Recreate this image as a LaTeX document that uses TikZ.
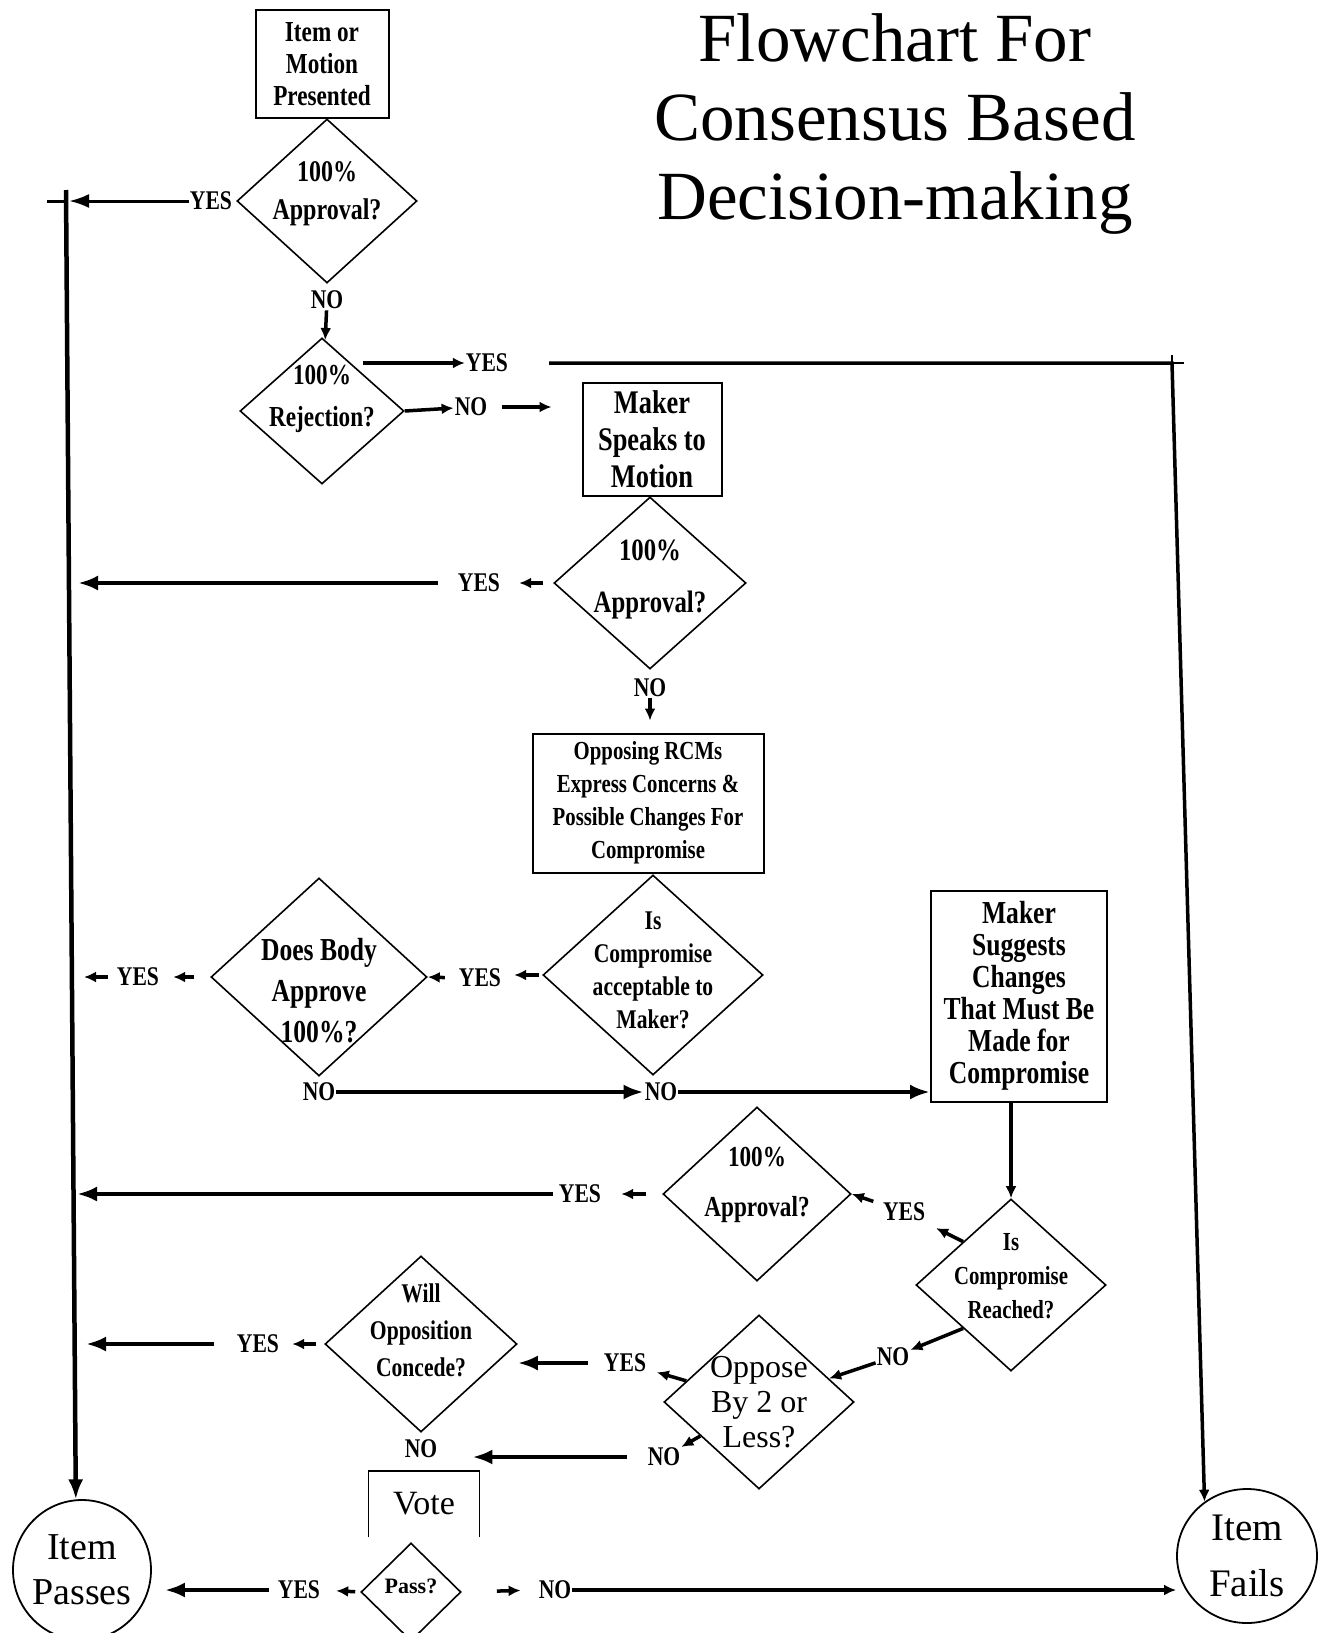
\documentclass[tikz,border=0pt]{standalone}
\usepackage{fontspec}
\setmainfont{Liberation Serif}
\newfontfamily\narrowfont[FakeStretch=0.8]{Liberation Serif}
\usetikzlibrary{shapes.geometric, positioning, backgrounds, calc, arrows.meta}

\begin{document}
\begin{tikzpicture}[
    x=1pt, y=-1pt,
    background rectangle/.style={fill=white},
    show background rectangle,
    inner frame sep=0pt,
    >={Latex[length=12pt, width=11pt]},
    txt/.style 2 args={font=\narrowfont\bfseries\fontsize{#1}{#2}\selectfont, align=center},
    box/.style={draw, line width=2pt, inner sep=0pt, align=center},
    decision/.style 2 args={diamond, draw, line width=1.6pt, inner sep=0pt, minimum width=#1, minimum height=#2},
    terminal/.style={ellipse, draw, line width=1.8pt, inner sep=-15pt, align=center},
    answer/.style={font=\narrowfont\bfseries\fontsize{27}{27}\selectfont, inner sep=1pt},
    link/.style={line width=3.5pt, ->},
    trunk/.style={line width=4.5pt, -{Latex[length=20pt, width=15pt]}}
]
    \useasboundingbox (0,0) rectangle (1319,1633);

    % Title
    \node[font=\fontsize{69}{79}\selectfont, align=center] (head) at (895,124) {Flowchart For\\Consensus Based\\Decision-making};

    % Start
    \node[box, txt={29}{32}, minimum width=133pt, minimum height=108pt] (start) at (322,64) {Item or\\Motion\\Presented};

    % First approval check
    \node[decision={180pt}{164pt}, label={[txt={30}{38}, yshift=7pt]center:100\%\\Approval?}] (appr1) at (327,201) {};
    \node[answer, left=3pt of appr1] (y1) {YES};
    \node[answer, below=6pt of appr1] (n1) {NO};
    \coordinate (ltop) at (66,190);

    % Rejection check
    \node[decision={164pt}{146pt}, label={[txt={29}{42}, yshift=12pt]center:100\%\\Rejection?}] (rej) at (322,411) {};
    \node[answer] (y2) at (487,363) {YES};
    \node[answer] (n2) at (471,407) {NO};
    \coordinate (rtop) at (1172,363);

    % Maker speaks
    \node[box, txt={33}{37}, minimum width=139pt, minimum height=113pt] (maker) at (652,439) {Maker\\Speaks to\\Motion};

    % Second approval check
    \node[decision={192pt}{172pt}, label={[txt={31}{52}, yshift=4pt]center:100\%\\Approval?}] (appr2) at (650,583) {};
    \node[answer] (y3) at (479,583) {YES};
    \node[answer, below=8pt of appr2] (n3) {NO};

    % Concerns
    \node[box, txt={26}{33}, minimum width=231pt, minimum height=139pt] (concerns) at (648,803) {Opposing RCMs\\Express Concerns \&\\Possible Changes For\\Compromise};

    % Acceptable to maker?
    \node[decision={220pt}{200pt}, label={[txt={27}{33}, yshift=5pt]center:Is\\Compromise\\acceptable to\\Maker?}] (accept) at (653,975) {};
    \node[answer] (y4) at (480,978) {YES};

    % Body approves?
    \node[decision={216pt}{198pt}, label={[txt={32}{41}, yshift=-14pt]center:Does Body\\Approve\\100\%?}] (body) at (319,977) {};
    \node[answer] (y5) at (138,977) {YES};
    \node[answer] (n4) at (319,1092) {NO};
    \node[answer] (n5) at (661,1092) {NO};

    % Maker suggests
    \node[box, txt={32}{32}, minimum width=176pt, minimum height=211pt] (suggest) at (1019,996) {Maker\\Suggests\\Changes\\That Must Be\\Made for\\Compromise};

    % Compromise reached?
    \node[decision={190pt}{172pt}, label={[txt={26}{34}, yshift=9pt]center:Is\\Compromise\\Reached?}] (reached) at (1011,1285) {};
    \node[answer] (y6) at (904,1212) {YES};
    \node[answer] (n6) at (893,1357) {NO};

    % Third approval check
    \node[decision={188pt}{174pt}, label={[txt={29}{50}, yshift=9pt]center:100\%\\Approval?}] (appr3) at (757,1194) {};
    \node[answer] (y7) at (580,1194) {YES};

    % Opposition by 2 or less?
    \node[decision={190pt}{174pt}, label={[font=\fontsize{32}{35}\selectfont, align=center]center:Oppose\\By 2 or\\Less?}] (few) at (759,1402) {};
    \node[answer] (y8) at (625,1363) {YES};
    \node[answer] (n8) at (664,1457) {NO};

    % Will opposition concede?
    \node[decision={192pt}{176pt}, label={[txt={27}{37}, yshift=14pt]center:Will\\Opposition\\Concede?}] (concede) at (421,1344) {};
    \node[answer] (y9) at (258,1344) {YES};
    \node[answer, below=6pt of concede] (n7) {NO};

    % Vote
    \node[minimum width=111pt, minimum height=66pt, font=\fontsize{34}{34}\selectfont] (vote) at (424,1504) {Vote};
    \node[decision={100pt}{98pt}, label={[font=\bfseries\fontsize{22}{22}\selectfont, yshift=6pt]center:Pass?}] (pass) at (411,1592) {};
    \node[answer] (y10) at (299,1590) {YES};
    \node[answer] (n9) at (555,1590) {NO};

    % Outcomes
    \node[terminal, minimum width=138pt, minimum height=140pt, font=\fontsize{38}{45}\selectfont] (passes) at (82,1570) {Item\\Passes};
    \node[terminal, minimum width=140pt, minimum height=134pt, font=\fontsize{39}{56}\selectfont] (fails) at (1247,1556) {Item\\Fails};

    % Left line to Item Passes
    \draw[trunk] (ltop) -- (passes.95);
    \draw[link, line width=3pt, -{Latex[length=20pt, width=14pt]}, shorten >=3pt] (y1) -- (y1 -| ltop);
    \draw[line width=3pt] (y1 -| ltop) -- ++(-19,0);
    \draw[link] (n1) -- (rej);

    % Rejection branches
    \draw[link] (rej.north east |- y2) -- (y2);
    \draw[line width=3.5pt, ->] ($(y2.east)+(40,0)$) -- (rtop) -- (fails.128);
    \draw[line width=2pt] (rtop) ++(12,0) -- (rtop) -- ++(0,-8);
    \draw[link] (rej.east) -- (n2);
    \draw[link, shorten <=14pt, shorten >=30pt] (n2.east) -- (n2.east -| maker.west);

    % Second approval branches
    \draw[link, shorten <=10pt, shorten >=18pt] (appr2.west) -- (y3.east);
    \draw[trunk, shorten <=19pt, shorten >=12pt] (y3.west) -- (y3.west -| ltop);
    \draw[link, shorten >=12pt] (n3) -- (n3 |- concerns.north);

    % Acceptable and body branches
    \draw[link, shorten <=3pt, shorten >=12pt] (accept.west) -- (accept.west -| y4.east);
    \draw[link, shorten <=13pt] (y4.west) -- (body.east);
    \draw[link, shorten <=16pt, shorten >=13pt] (body.west) -- (y5.east);
    \draw[link, shorten <=8pt, shorten >=18pt] (y5.west) -- (y5.west -| ltop);
    \draw[trunk] (n4) -- (n5);
    \draw[trunk] (n5) -- (n5 -| suggest.west);

    % Compromise reached branches
    \draw[link] (suggest.south -| reached.north) -- (reached.north);
    \draw[link, shorten >=13pt] (reached.north west) -- (y6);
    \draw[link, shorten <=9pt] (y6) -- (appr3.east);
    \draw[link] (reached.south west) -- (n6);
    \draw[link] (n6) -- (few);

    % Third approval branches
    \draw[link, shorten <=16pt, shorten >=19pt] (appr3.west) -- (y7.east);
    \draw[trunk, shorten <=5pt, shorten >=11pt] (y7.west) -- (y7.west -| ltop);

    % Opposition branches
    \draw[link, shorten >=10pt] (few) -- (y8);
    \draw[trunk, shorten <=15pt] (y8.west) -- (y8.west -| concede.east);
    \draw[link, shorten <=8pt, shorten >=12pt] (concede.west) -- (y9.east);
    \draw[trunk, shorten <=22pt, shorten >=20pt] (y9.west) -- (y9.west -| ltop);
    \draw[link] (few) -- (n8);
    \draw[trunk, shorten <=20pt, shorten >=34pt] (n8.west) -- (n8.west -| n7.east);

    % Vote and result
    \draw[line width=1.5pt] (vote.south west) -- (vote.north west) -- (vote.north east) -- (vote.south east);
    \draw[link, shorten <=5pt, shorten >=15pt] (pass.west) -- (y10.east);
    \draw[trunk, shorten <=8pt, shorten >=13pt] (y10.west) -- (y10.west -| passes.east);
    \draw[link, shorten <=35pt, shorten >=17pt] (pass.east) -- (n9.west);
    \draw[line width=3.5pt, ->] (n9) -- (n9 -| fails.west);

\end{tikzpicture}
\end{document}
